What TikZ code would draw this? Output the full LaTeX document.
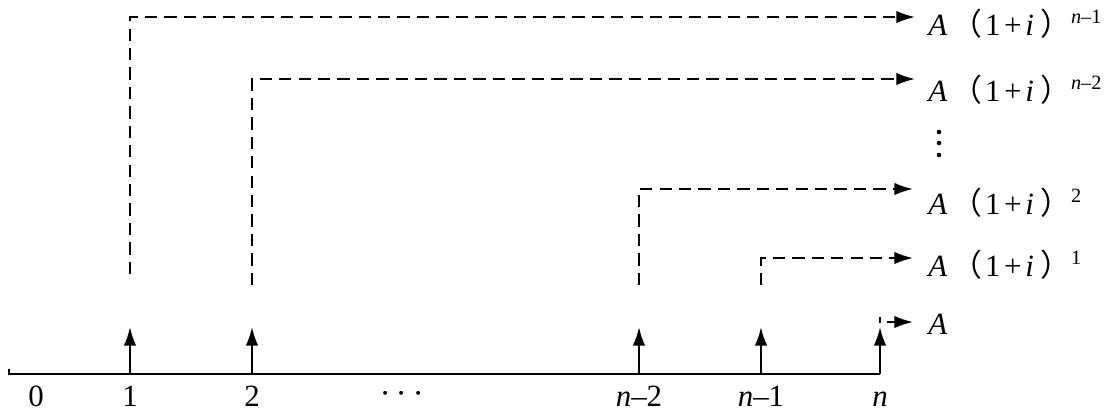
\documentclass[tikz,border=0pt]{standalone}
\usepackage{fontspec}
\setmainfont{Liberation Serif}
\newfontfamily\cjk{Noto Sans CJK SC}
\usetikzlibrary{arrows.meta}
\newcommand{\fvlabel}[1]{\textit{A}\hspace{0.12em}{\cjk（}\hspace{0.1em}1\hspace{0.12em}+\hspace{0.12em}\textit{i}\hspace{0.2em}{\cjk）}\raisebox{6.8pt}{\fontsize{11.5}{12}\selectfont #1}}

\begin{document}
\begin{tikzpicture}[
    x=0.5663pt, y=-0.5663pt,
    cash/.style={-{Latex[length=10.5pt,width=7pt]}, line width=1.1pt},
    fwd/.style={cash, dash pattern=on 7pt off 4pt},
    lbl/.style={anchor=base west, inner sep=0pt, font=\fontsize{17.5}{20}\selectfont},
    period/.style={anchor=base, inner sep=0pt, font=\fontsize{17.5}{20}\selectfont}]
  \useasboundingbox (0,0) rectangle (1109,410);
  % time axis
  \coordinate (t0) at (9,374);
  \coordinate (tn) at (880,374);
  \draw[line width=1.1pt] (9,369) -- (t0) -- (tn);
  \node[period] (p0) at (36,406) {0};
  \node[period] (p1) at (130,406) {1};
  \node[period] (p2) at (252,406) {2};
  \node[period, font=\fontsize{22}{24}\selectfont] (pd) at (402,402) {$\cdots$};
  \node[period] (pa) at (639,406) {\textit{n}–2};
  \node[period] (pb) at (761,406) {\textit{n}–1};
  \node[period] (pn) at (880,406) {\textit{n}};
  % payments
  \foreach \x/\n in {130/1, 252/2, 639/3, 761/4, 880/5} {
    \coordinate (b\n) at (\x,374);
    \coordinate (a\n) at (\x,327);
    \draw[cash] (b\n) -- (a\n);
  }
  % future values
  \coordinate (s1) at (130,274);
  \coordinate (e1) at (915,17);
  \node[lbl] (v1) at (928,35) {\fvlabel{\textit{n}–1}};
  \draw[fwd] (s1) |- (e1);
  \coordinate (s2) at (252,285);
  \coordinate (e2) at (915,79);
  \node[lbl] (v2) at (928,101) {\fvlabel{\textit{n}–2}};
  \draw[fwd] (s2) |- (e2);
  \fill (939,132) circle (2.3) (939,143) circle (2.3) (939,155) circle (2.3);
  \coordinate (s3) at (639,285);
  \coordinate (e3) at (913,189);
  \node[lbl] (v3) at (928,214) {\fvlabel{2}};
  \draw[fwd] (s3) |- (e3);
  \coordinate (s4) at (761,285);
  \coordinate (e4) at (913,258);
  \node[lbl] (v4) at (928,276) {\fvlabel{1}};
  \draw[fwd] (s4) |- (e4);
  \coordinate (s5) at (880,317);
  \coordinate (e5) at (913,322);
  \node[lbl] (v5) at (928,334) {\textit{A}};
  \draw[fwd, dash phase=4pt] (s5) |- (e5);
\end{tikzpicture}
\end{document}
